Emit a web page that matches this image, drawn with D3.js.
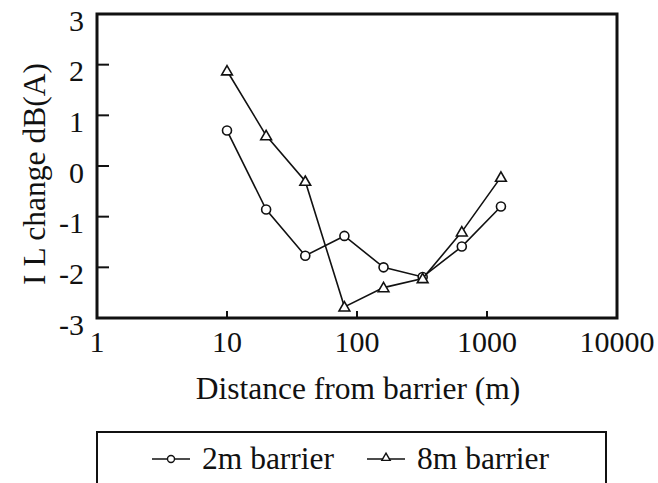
<!DOCTYPE html>
<html>
<head>
<meta charset="utf-8">
<script src="https://cdn.jsdelivr.net/npm/d3@7"></script>
<style>
    body { margin: 0; background: #fff; }
</style>
</head>
<body>
<div id="chart"></div>
<script>
// distances (m) and insertion loss change dB(A)
const distances = [10, 20, 40, 80, 160, 320, 640, 1280];
const barrier2m = [0.7, -0.86, -1.77, -1.38, -2.0, -2.19, -1.59, -0.8];
const barrier8m = [1.88, 0.6, -0.3, -2.78, -2.4, -2.22, -1.3, -0.22];

const xTickValues = [1, 10, 100, 1000, 10000];
const yTickValues = [-3, -2, -1, 0, 1, 2, 3];

const seriesNames = ["2m barrier", "8m barrier"];

let margin = { top: 14, right: 41, bottom: 165, left: 97 };
let width = 658 - margin.left - margin.right;
let height = 483 - margin.top - margin.bottom;

let svg = d3.select("#chart").append("svg")
    .attr("width", 658)
    .attr("height", 483)
    .attr("font-family", "'Liberation Serif', 'Times New Roman', serif")
    .attr("fill", "#111");

let g = svg.append("g")
    .attr("transform", "translate(" + margin.left + "," + margin.top + ")");

let x = d3.scaleLog()
    .domain([1, 10000])
    .range([0, width]);

let y = d3.scaleLinear()
    .domain([-3, 3])
    .range([height, 0]);

// ticks point inward, only the inner ones
g.selectAll(".ytick")
    .data(yTickValues.filter(function (d) { return d > -3 && d < 3; }))
    .enter().append("line")
    .attr("x1", 0).attr("x2", 12)
    .attr("y1", function (d) { return y(d); })
    .attr("y2", function (d) { return y(d); })
    .attr("stroke", "#111").attr("stroke-width", 2);

g.selectAll(".xtick")
    .data(xTickValues.filter(function (d) { return d > 1 && d < 10000; }))
    .enter().append("line")
    .attr("x1", function (d) { return x(d); })
    .attr("x2", function (d) { return x(d); })
    .attr("y1", height).attr("y2", height - 7)
    .attr("stroke", "#111").attr("stroke-width", 2);

// tick labels
g.selectAll(".ylabel")
    .data(yTickValues)
    .enter().append("text")
    .attr("x", -13)
    .attr("y", function (d) { return y(d); })
    .attr("dy", "0.55em")
    .attr("text-anchor", "end")
    .attr("font-size", 30)
    .text(function (d) { return d; });

g.selectAll(".xlabel")
    .data(xTickValues)
    .enter().append("text")
    .attr("x", function (d) { return x(d); })
    .attr("y", height + 34)
    .attr("text-anchor", "middle")
    .attr("font-size", 30)
    .text(function (d) { return d; });

// frame
g.append("rect")
    .attr("width", width)
    .attr("height", height)
    .attr("fill", "none")
    .attr("stroke", "#111")
    .attr("stroke-width", 3);

// axis titles
g.append("text")
    .attr("x", width / 2 + 1)
    .attr("y", height + 81)
    .attr("text-anchor", "middle")
    .attr("font-size", 31.5)
    .text("Distance from barrier (m)");

svg.append("text")
    .attr("transform", "translate(45," + (margin.top + 160) + ") rotate(-90)")
    .attr("text-anchor", "middle")
    .attr("font-size", 31.5)
    .text("I L change dB(A)");

// lines
let line = d3.line()
    .x(function (d) { return x(d.dist); })
    .y(function (d) { return y(d.val); });

let series = [barrier2m, barrier8m].map(function (vals) {
    return vals.map(function (v, i) { return { dist: distances[i], val: v }; });
});

let triangle = d3.symbol().type(d3.symbolTriangle).size(50);

series.forEach(function (s, k) {
    g.append("path")
        .datum(s)
        .attr("d", line)
        .attr("fill", "none")
        .attr("stroke", "#111")
        .attr("stroke-width", 1.6);

    let pts = g.selectAll(".pt" + k)
        .data(s)
        .enter();

    if (k === 0) {
        pts.append("circle")
            .attr("cx", function (d) { return x(d.dist); })
            .attr("cy", function (d) { return y(d.val); })
            .attr("r", 4.5)
            .attr("fill", "#fff")
            .attr("stroke", "#111")
            .attr("stroke-width", 1.6);
    } else {
        pts.append("path")
            .attr("d", triangle)
            .attr("transform", function (d) { return "translate(" + x(d.dist) + "," + (y(d.val) + 1) + ")"; })
            .attr("fill", "#fff")
            .attr("stroke", "#111")
            .attr("stroke-width", 1.6);
    }
});

// legend
let legend = svg.append("g");

legend.append("rect")
    .attr("x", 97).attr("y", 432)
    .attr("width", 509).attr("height", 90)
    .attr("fill", "none")
    .attr("stroke", "#111")
    .attr("stroke-width", 2);

let legendX = [152, 367];

seriesNames.forEach(function (name, k) {
    let lx = legendX[k];
    legend.append("line")
        .attr("x1", lx).attr("x2", lx + 38)
        .attr("y1", 459).attr("y2", 459)
        .attr("stroke", "#111").attr("stroke-width", 1.6);
    if (k === 0) {
        legend.append("circle")
            .attr("cx", lx + 19).attr("cy", 459).attr("r", 3.5)
            .attr("fill", "#fff").attr("stroke", "#111").attr("stroke-width", 1.4);
    } else {
        legend.append("path")
            .attr("d", d3.symbol().type(d3.symbolTriangle).size(30))
            .attr("transform", "translate(" + (lx + 19) + ",458)")
            .attr("fill", "#fff").attr("stroke", "#111").attr("stroke-width", 1.4);
    }
    legend.append("text")
        .attr("x", lx + 50)
        .attr("y", 469)
        .attr("font-size", 31.5)
        .text(name);
});
</script>
</body>
</html>
